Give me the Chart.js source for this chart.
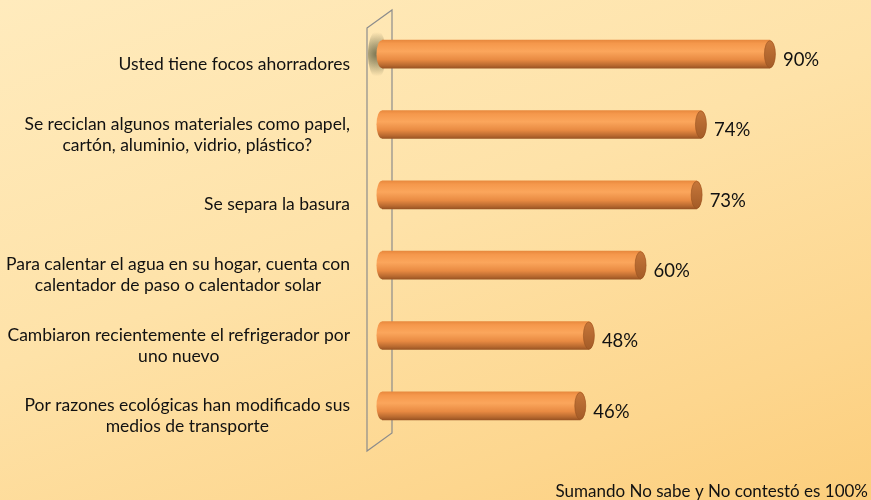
<!DOCTYPE html>
<html>
<head>
<meta charset="utf-8">
<script src="https://cdn.jsdelivr.net/npm/chart.js@4/dist/chart.umd.min.js"></script>
<style>
html,body{margin:0;padding:0;}
body{width:871px;height:500px;overflow:hidden;background:linear-gradient(160deg,#FFEBBD 0%,#FEE2A8 45%,#FDD68E 80%,#FCCE7C 100%);}
#wrap{position:relative;width:871px;height:500px;}
</style>
</head>
<body>
<div id="wrap"><canvas id="c" width="871" height="500"></canvas></div>
<script>
const categories = [
  ["Usted tiene focos ahorradores"],
  ["Se reciclan algunos materiales como papel,", "cartón, aluminio, vidrio, plástico?"],
  ["Se separa la basura"],
  ["Para calentar el agua en su hogar, cuenta con", "calentador de paso o calentador solar"],
  ["Cambiaron recientemente el refrigerador por", "uno nuevo"],
  ["Por razones ecológicas han modificado sus", "medios de transporte"]
];
const values = [90, 74, 73, 60, 48, 46];
const valueLabels = ["90%", "74%", "73%", "60%", "48%", "46%"];
const footnote = "Sumando No sabe y No contestó es 100%";

const FONT = "Lato, 'Open Sans', sans-serif";
const BAR_H = 28;

function barGradient(ctx, top, bottom) {
  const g = ctx.createLinearGradient(0, top, 0, bottom);
  g.addColorStop(0, '#E8893E');
  g.addColorStop(0.12, '#F5984C');
  g.addColorStop(0.4, '#FBA65C');
  g.addColorStop(0.7, '#E88A42');
  g.addColorStop(0.9, '#B8692F');
  g.addColorStop(1, '#9A5423');
  return g;
}

const decor = {
  id: 'decor',
  beforeDatasetsDraw(chart) {
    const ctx = chart.ctx;
    const xs = chart.scales.x;
    const ys = chart.scales.y;
    const x0 = xs.getPixelForValue(0);
    const top = chart.chartArea.top;
    const bot = chart.chartArea.bottom;
    ctx.save();
    ctx.strokeStyle = '#8C8C8C';
    ctx.lineWidth = 1.2;
    ctx.beginPath();
    ctx.moveTo(x0 - 15, top + 9);
    ctx.lineTo(x0 + 10, top - 9);
    ctx.lineTo(x0 + 10, bot - 8);
    ctx.lineTo(x0 - 15, bot + 10);
    ctx.closePath();
    ctx.stroke();
    const y1 = ys.getPixelForValue(0);
    const rg = ctx.createRadialGradient(x0 - 5, y1, 2, x0 - 5, y1, 22);
    rg.addColorStop(0, 'rgba(90,90,60,0.75)');
    rg.addColorStop(1, 'rgba(90,90,60,0)');
    ctx.fillStyle = rg;
    ctx.beginPath();
    ctx.ellipse(x0 - 5, y1, 9, 24, 0, 0, Math.PI * 2);
    ctx.fill();
    ctx.restore();
  },
  afterDatasetsDraw(chart) {
    const ctx = chart.ctx;
    const meta = chart.getDatasetMeta(0);
    ctx.save();
    meta.data.forEach((bar, i) => {
      const h = BAR_H;
      const t = bar.y - h / 2, b = bar.y + h / 2;
      const rx = 5.5;
      ctx.fillStyle = barGradient(ctx, t, b);
      ctx.beginPath();
      ctx.ellipse(bar.base, bar.y, rx, h / 2, 0, Math.PI / 2, Math.PI * 1.5);
      ctx.closePath();
      ctx.fill();
      ctx.beginPath();
      ctx.ellipse(bar.x, bar.y, rx, h / 2, 0, -Math.PI / 2, Math.PI / 2);
      ctx.closePath();
      ctx.fill();
      const cg = ctx.createLinearGradient(0, t, 0, b);
      cg.addColorStop(0, '#C7773A');
      cg.addColorStop(1, '#A35B27');
      ctx.fillStyle = cg;
      ctx.beginPath();
      ctx.ellipse(bar.x, bar.y, rx, h / 2 - 0.5, 0, 0, Math.PI * 2);
      ctx.fill();
      ctx.strokeStyle = 'rgba(150,80,30,0.7)';
      ctx.lineWidth = 0.8;
      ctx.stroke();
    });
    ctx.restore();
  },
  afterDraw(chart) {
    const ctx = chart.ctx;
    const ys = chart.scales.y;
    const meta = chart.getDatasetMeta(0);
    ctx.save();
    ctx.fillStyle = '#111111';
    ctx.font = '17.5px ' + FONT;
    ctx.textBaseline = 'middle';
    const right = 350, lh = 21;
    categories.forEach((lines, i) => {
      const yc = ys.getPixelForValue(i) + 10;
      let w = 0;
      lines.forEach(l => { w = Math.max(w, ctx.measureText(l).width); });
      const cx = right - w / 2;
      ctx.textAlign = 'center';
      const y0 = yc - (lines.length - 1) * lh / 2;
      lines.forEach((l, k) => ctx.fillText(l, cx, y0 + k * lh));
    });
    ctx.font = '18.5px ' + FONT;
    ctx.textAlign = 'left';
    meta.data.forEach((bar, i) => {
      ctx.fillText(valueLabels[i], bar.x + 13, bar.y + 6);
    });
    ctx.font = '17px ' + FONT;
    ctx.textAlign = 'right';
    ctx.textBaseline = 'alphabetic';
    ctx.fillText(footnote, 868, 497);
    ctx.restore();
  }
};

new Chart(document.getElementById('c'), {
  type: 'bar',
  data: {
    labels: categories,
    datasets: [{
      data: values,
      backgroundColor(c) {
        const chart = c.chart;
        if (!chart.chartArea || !chart.scales || !chart.scales.y) return '#F79646';
        const y = chart.scales.y.getPixelForValue(c.dataIndex);
        if (!isFinite(y)) return '#F79646';
        return barGradient(chart.ctx, y - BAR_H / 2, y + BAR_H / 2);
      },
      borderWidth: 0,
      barThickness: BAR_H
    }]
  },
  options: {
    indexAxis: 'y',
    responsive: false,
    animation: false,
    layout: { padding: { left: 382, right: 58, top: 19, bottom: 59 } },
    plugins: { legend: { display: false }, tooltip: { enabled: false }, title: { display: false } },
    scales: {
      x: { display: false, min: 0, max: 100 },
      y: { display: false }
    }
  },
  plugins: [decor]
});
</script>
</body>
</html>
